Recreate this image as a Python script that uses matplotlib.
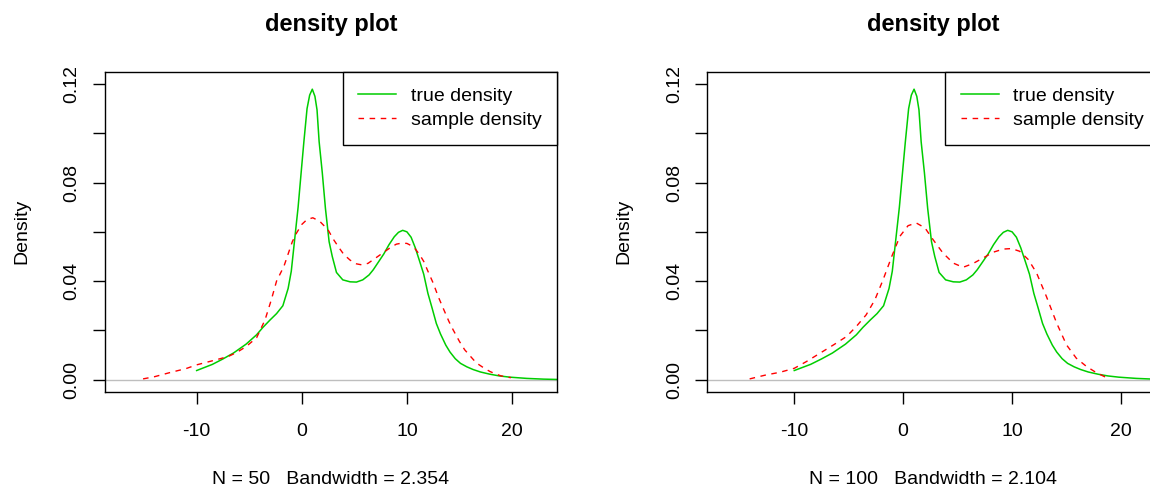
import matplotlib
matplotlib.use("Agg")
import matplotlib.pyplot as plt

plt.rcParams["font.family"] = ["Liberation Sans", "DejaVu Sans"]
plt.rcParams["axes.unicode_minus"] = False

# true density (same curve on both panels)
true_x = [-10.0, -8.5, -7.5, -6.5, -5.3, -4.3, -3.7, -3.0, -2.4, -1.8, -1.3, -1.0,
          -0.7, -0.35, 0.0, 0.2, 0.5, 0.75, 1.0, 1.25, 1.45, 1.65, 1.95, 2.25, 2.6,
          2.9, 3.3, 3.9, 4.6, 5.2, 5.8, 6.4, 6.8, 7.3, 7.8, 8.3, 8.8, 9.2, 9.6, 10.0,
          10.4, 10.8, 11.2, 11.6, 12.0, 12.4, 12.8, 13.2, 13.7, 14.1, 14.6, 15.1,
          15.7, 16.3, 17.0, 17.9, 18.8, 19.8, 21.4, 23.0, 25.0]
true_y = [0.0037, 0.0062, 0.0084, 0.0108, 0.0144, 0.0182, 0.0212, 0.0243, 0.0268,
          0.0300, 0.0370, 0.0440, 0.0560, 0.0700, 0.0870, 0.0966, 0.1100, 0.1155,
          0.1179, 0.1150, 0.1095, 0.0966, 0.0840, 0.0695, 0.0560, 0.0500, 0.0435,
          0.0405, 0.0397, 0.0396, 0.0405, 0.0425, 0.0446, 0.0478, 0.0510, 0.0548,
          0.0580, 0.0598, 0.0606, 0.0600, 0.0578, 0.0535, 0.0482, 0.0428, 0.0350,
          0.0290, 0.0228, 0.0185, 0.0140, 0.0112, 0.0085, 0.0066, 0.0052, 0.0041,
          0.0031, 0.0022, 0.0015, 0.0010, 0.0005, 0.0002, 0.0]

# sample density, N = 50
s50_x = [-15.1, -14.0, -12.6, -11.0, -10.0, -8.1, -7.0, -6.2, -5.3, -4.3, -3.5, -2.9,
         -2.4, -1.7, -1.3, -0.9, -0.5, 0.0, 0.5, 1.05, 1.7, 2.5, 3.0, 3.5, 4.0, 4.6,
         5.2, 5.7, 6.3, 6.8, 7.4, 7.9, 8.5, 9.0, 9.5, 10.0, 10.5, 10.8, 11.2, 11.6,
         12.0, 12.5, 13.0, 13.5, 14.0, 14.4, 15.0, 15.5, 16.1, 16.6, 17.3, 17.9,
         18.4, 18.9, 19.4, 19.9]
s50_y = [0.0003, 0.0012, 0.0028, 0.0045, 0.0060, 0.0081, 0.0094, 0.0110, 0.0134,
         0.0170, 0.0242, 0.0324, 0.0400, 0.0460, 0.0510, 0.0560, 0.0595, 0.0630,
         0.0650, 0.0657, 0.0643, 0.0608, 0.0570, 0.0538, 0.0508, 0.0485, 0.0470,
         0.0466, 0.0472, 0.0487, 0.0505, 0.0520, 0.0538, 0.0550, 0.0554, 0.0553,
         0.0542, 0.0530, 0.0508, 0.0480, 0.0440, 0.0392, 0.0335, 0.0285, 0.0236,
         0.0202, 0.0155, 0.0121, 0.0092, 0.0068, 0.0048, 0.0033, 0.0024, 0.0016,
         0.0011, 0.0008]

# sample density, N = 100
s100_x = [-14.1, -12.6, -11.3, -10.0, -8.9, -7.65, -6.4, -5.2, -4.3, -3.4, -2.6,
          -1.85, -1.05, -0.3, 0.45, 1.2, 2.0, 2.75, 3.65, 4.6, 5.5, 6.4, 7.35, 8.25,
          9.2, 9.95, 10.7, 11.5, 12.25, 13.15, 14.1, 15.0, 15.9, 16.85, 17.75, 18.5,
          19.0]
s100_y = [0.0003, 0.0019, 0.0030, 0.0046, 0.0073, 0.0107, 0.0141, 0.0175, 0.0216,
          0.0263, 0.0324, 0.0405, 0.0500, 0.0582, 0.0625, 0.0636, 0.0616, 0.0568,
          0.0514, 0.0473, 0.0456, 0.0471, 0.0494, 0.0517, 0.0530, 0.0532, 0.0521,
          0.0487, 0.0433, 0.0338, 0.0229, 0.0141, 0.0087, 0.0053, 0.0028, 0.0012,
          0.0006]

panels = [
    (s50_x, s50_y, "N = 50   Bandwidth = 2.354", (-18.75, 24.28), 104.7),
    (s100_x, s100_y, "N = 100   Bandwidth = 2.104", (-17.99, 23.55), 707.3),
]
yticks = [0.0, 0.02, 0.04, 0.06, 0.08, 0.10, 0.12]
ylabels = ["0.00", "", "0.04", "", "0.08", "", "0.12"]

W, H = 1150, 488
fig = plt.figure(figsize=(W / 100, H / 100), dpi=100)

for sx, sy, xlab, xlim, left_px in panels:
    ax = fig.add_axes([left_px / W, (H - 391.7) / H, 452.3 / W, 320 / H])
    ax.axhline(0, color="#BEBEBE", lw=1.0)
    ax.plot(true_x, true_y, color="#00CD00", lw=1.1, label="true density")
    ax.plot(sx, sy, color="#FF0000", lw=1.0, linestyle=(0, (4, 4)),
            label="sample density")
    ax.set_xlim(*xlim)
    ax.set_ylim(-0.0049, 0.125)
    ax.set_xticks([-10, 0, 10, 20])
    ax.set_yticks(yticks)
    ax.set_yticklabels(ylabels, rotation=90, va="center")
    ax.tick_params(length=8.6, width=1.0, labelsize=14, color="black")
    ax.tick_params(axis="x", pad=14)
    ax.tick_params(axis="y", pad=9)
    for sp in ax.spines.values():
        sp.set_linewidth(1.0)
    ax.set_title("density plot", fontsize=17, fontweight="bold", pad=29)
    ax.set_xlabel(xlab, fontsize=14, labelpad=22)
    ax.set_ylabel("Density", fontsize=14, labelpad=24)
    leg = ax.legend(loc="upper right", fontsize=14, frameon=True, fancybox=False,
                    borderaxespad=0, handlelength=1.95, handletextpad=0.75,
                    borderpad=0.8, labelspacing=0.35, framealpha=1)
    leg.get_frame().set_edgecolor("black")
    leg.get_frame().set_linewidth(1.0)

fig.savefig("out.png", dpi=100)
